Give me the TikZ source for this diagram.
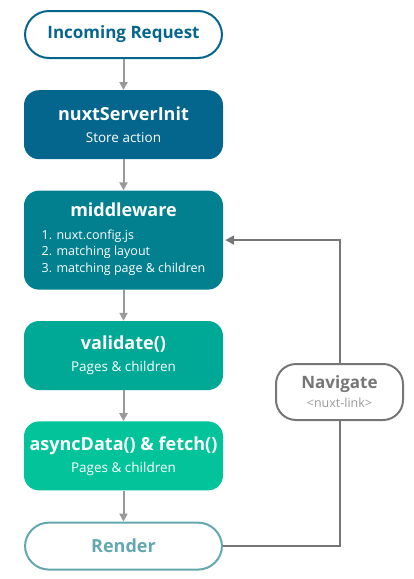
\documentclass[tikz,border=0pt]{standalone}
\usepackage{fontspec}
\setmainfont{Open Sans}
\usetikzlibrary{positioning, arrows.meta}
\definecolor{cdeep}{HTML}{05668D}
\definecolor{cteal}{HTML}{028090}
\definecolor{cgreen}{HTML}{00A896}
\definecolor{cmint}{HTML}{02C39A}
\definecolor{crender}{HTML}{62A8AE}
\definecolor{cnav}{HTML}{767676}
\tikzset{stage/.style={draw=none, text=white, rounded corners=15, minimum width=199pt, inner sep=0pt, align=center, font=\fontsize{13.5}{22}\selectfont}}
\tikzset{pill/.style={fill=white, line width=2pt, rounded corners=24, minimum width=197pt, minimum height=47pt, inner sep=0pt, align=center}}
\tikzset{flow/.style={draw=gray!80, line width=2pt, -{Triangle[width=8pt, length=8pt]}}}
\tikzset{back/.style={draw=cnav, line width=2pt}}
\newcommand{\ttl}[1]{{\fontsize{18}{20}\selectfont\bfseries #1}}
\newcommand{\sub}[1]{{\fontsize{13.5}{16}\selectfont #1}}
\begin{document}
\begin{tikzpicture}[x=1pt, y=1pt, node distance=31pt]
	\useasboundingbox (0,0) rectangle (414,-579);
	\node[pill, draw=cdeep, text=cdeep] (req) at (123.5,-34.5) {{\fontsize{17}{20}\selectfont\bfseries Incoming Request}};
	\node[stage, fill=cdeep, minimum height=69pt, below=of req] (init) {\ttl{nuxtServerInit}\\\sub{Store action}};
	\node[stage, fill=cteal, minimum height=99pt, below=of init] (mid) {\ttl{middleware}\\[1pt]
		{\fontsize{12.5}{16.5}\selectfont\begin{tabular}[t]{@{}l@{}}1. nuxt.config.js\\2. matching layout\\3. matching page \& children\end{tabular}}};
	\node[stage, fill=cgreen, minimum height=69pt, below=of mid] (val) {\ttl{validate()}\\\sub{Pages \& children}};
	\node[stage, fill=cmint, minimum height=69pt, below=of val] (async) {\ttl{asyncData() \& fetch()}\\\sub{Pages \& children}};
	\node[pill, draw=crender, text=crender, below=of async] (render) {\ttl{Render}};
	\node[pill, draw=cnav, minimum width=127pt, minimum height=56pt, rounded corners=20, font=\fontsize{12.5}{19}\selectfont] (nav) at (339.5,-392)
		{{\fontsize{17}{20}\selectfont\bfseries\color{cnav}Navigate}\\{\color{gray!80}<nuxt-link>}};
	%
	\draw[flow] (req) -- (init);
	\draw[flow] (init) -- (mid);
	\draw[flow] (mid) -- (val);
	\draw[flow] (val) -- (async);
	\draw[flow] (async) -- (render);
	\draw[back] (render.east) -| (nav.south);
	\draw[back, -{Triangle[width=9pt, length=9pt]}] (nav.north) |- ([xshift=2pt]mid.east);
\end{tikzpicture}
\end{document}
